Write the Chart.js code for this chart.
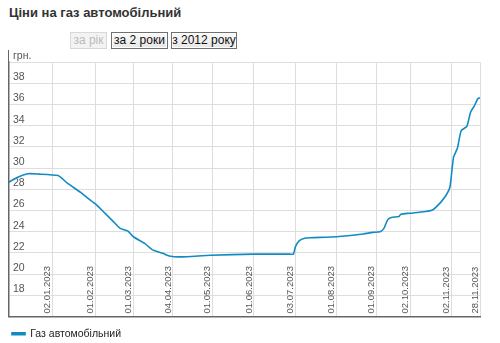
<!DOCTYPE html>
<html>
<head>
<meta charset="utf-8">
<script src="https://cdn.jsdelivr.net/npm/chart.js@4.4.0/dist/chart.umd.min.js"></script>
<style>
  body { margin: 0; width: 500px; height: 343px; background: #fff; font-family: "Liberation Sans", Arial, sans-serif; position: relative; overflow: hidden; }
  h1 { position: absolute; left: 9px; top: 5px; margin: 0; font-size: 13px; font-weight: bold; color: #333; }
  .btn { position: absolute; top: 32px; height: 15px; line-height: 15px; font-size: 12px; text-align: center; box-sizing: content-box;
         border: 1px solid #707070; box-shadow: inset 0 0 0 1px #fff; background: linear-gradient(#fafafa, #e6e6e6); color: #111; }
  .btn.off { border-color: #d8d8d8; box-shadow: none; background: #f3f3f3; color: #bbb; }
  #wrap { position: absolute; left: 0; top: 40px; width: 500px; height: 309px; }
</style>
</head>
<body>
<h1>Ціни на газ автомобільний</h1>
<div class="btn off" style="left:70px;width:35px;">за рік</div>
<div class="btn" style="left:111px;width:55px;">за 2 роки</div>
<div class="btn" style="left:171px;width:64px;">з 2012 року</div>
<div id="wrap"><canvas id="gasChart"></canvas></div>
<script>
// observation index (trading days) and price, грн.
const dayIdx = [0, 4, 10, 16, 26, 28, 31, 38, 42, 46, 50, 55, 59, 63, 66, 72, 76, 82, 85, 91,
                107, 130, 149, 151, 152, 154, 157, 160, 174, 188, 193, 197, 199, 201, 203, 207, 208,
                213, 221, 225, 229, 232, 234, 235, 236, 238, 240, 243, 245, 247, 248, 249, 250];
const prices = [28.67, 29.08, 29.46, 29.43, 29.30, 29.05, 28.57, 27.71, 27.14, 26.60, 25.90, 25.02, 24.31, 24.07, 23.52, 22.89, 22.31, 21.93, 21.71, 21.62,
                21.78, 21.88, 21.88, 21.90, 22.57, 23.14, 23.38, 23.43, 23.52, 23.78, 23.93, 24.00, 24.31, 25.11, 25.33, 25.43, 25.65,
                25.74, 25.90, 26.07, 26.74, 27.43, 28.16, 29.62, 31.05, 31.86, 33.52, 33.92, 35.27, 35.86, 36.24, 36.57, 36.62];
const tickIdx = [23, 46, 66, 87, 108, 130, 152, 174, 195, 213, 235, 250];
const tickLabels = ['02.01.2023', '01.02.2023', '01.03.2023', '04.04.2023', '01.05.2023', '01.06.2023',
                    '03.07.2023', '01.08.2023', '01.09.2023', '02.10.2023', '02.11.2023', '28.11.2023'];
const seriesName = 'Газ автомобільний';

const lineColor = '#118bc1';

// x labels are drawn inside the plot, rotated
const xLabelsInside = {
  id: 'xLabelsInside',
  afterDraw(chart) {
    const c = chart.ctx, xs = chart.scales.x, area = chart.chartArea;
    c.save();
    c.font = '9.5px "Liberation Sans", Arial, sans-serif';
    c.fillStyle = '#555';
    c.textAlign = 'left';
    c.textBaseline = 'middle';
    tickIdx.forEach((v, i) => {
      c.save();
      c.translate(xs.getPixelForValue(v) - 5, area.bottom - 3);
      c.rotate(-Math.PI / 2);
      c.fillText(tickLabels[i], 0, 0);
      c.restore();
    });
    // axis line sticks up above the plot
    c.strokeStyle = '#666';
    c.lineWidth = 1;
    c.beginPath();
    c.moveTo(area.left - 0.5, area.top - 12);
    c.lineTo(area.left - 0.5, area.top);
    c.stroke();
    c.restore();
  }
};

new Chart(document.getElementById('gasChart'), {
  type: 'line',
  data: {
    datasets: [{
      label: seriesName,
      data: dayIdx.map((d, i) => ({ x: d, y: prices[i] })),
      borderColor: lineColor,
      backgroundColor: lineColor,
      borderWidth: 1.6,
      pointRadius: 0,
      tension: 0.2
    }]
  },
  options: {
    responsive: true,
    maintainAspectRatio: false,
    animation: false,
    layout: { padding: { left: 0, right: 20, top: 22, bottom: 0 } },
    plugins: {
      tooltip: { enabled: false },
      legend: {
        position: 'bottom',
        align: 'start',
        labels: {
          boxWidth: 13,
          boxHeight: 2,
          padding: 12,
          color: '#222',
          font: { family: '"Liberation Sans", Arial, sans-serif', size: 10.5 }
        }
      }
    },
    scales: {
      x: {
        type: 'linear',
        min: 0,
        max: 250,
        afterBuildTicks: (s) => { s.ticks = tickIdx.map(v => ({ value: v })); },
        ticks: { display: false },
        grid: { color: '#dedede', drawTicks: false },
        border: { color: '#666', width: 1.5 }
      },
      y: {
        min: 16,
        max: 40,
        afterFit: (s) => { s.width = 9; },
        ticks: {
          stepSize: 2,
          mirror: true,
          padding: 4,
          labelOffset: -6,
          color: '#555',
          font: { family: '"Liberation Sans", Arial, sans-serif', size: 10.5 },
          callback: (v) => v === 40 ? 'грн.' : (v === 16 ? '' : v)
        },
        grid: { color: '#dedede', drawTicks: false },
        border: { color: '#666', width: 1.5 }
      }
    }
  },
  plugins: [xLabelsInside]
});
</script>
</body>
</html>
